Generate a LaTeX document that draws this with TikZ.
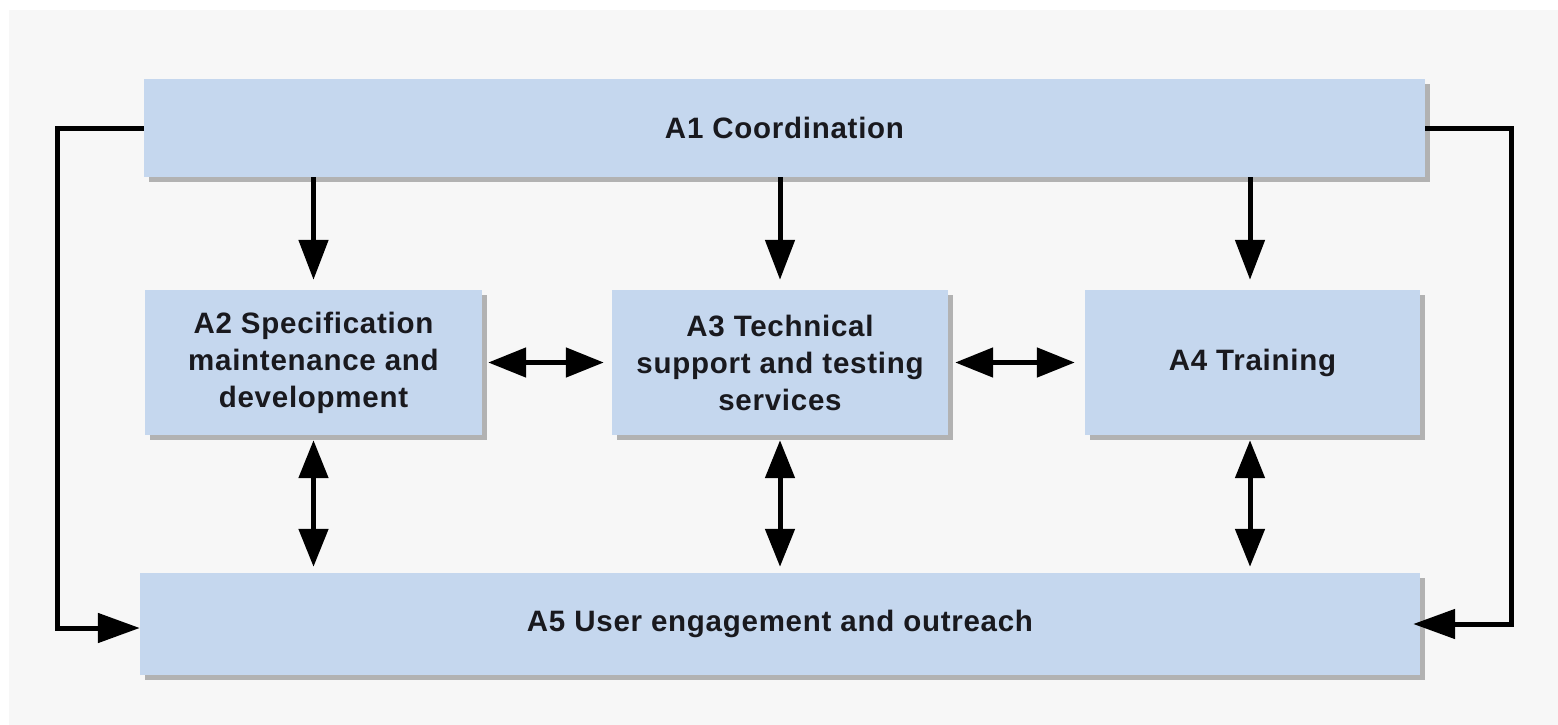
\documentclass[tikz,border=0pt]{standalone}
\usepackage{fontspec}
\setmainfont{Liberation Sans}[LetterSpace=2.5]
\usetikzlibrary{arrows.meta,shadows}
\definecolor{boxfill}{RGB}{197,215,238}
\definecolor{bgfill}{RGB}{247,247,247}
\definecolor{txt}{RGB}{25,25,30}
\begin{document}
\begin{tikzpicture}[x=1pt,y=-1pt,
  blk/.style={fill=boxfill, draw=none, inner sep=0pt, align=center, text=txt,
    font=\fontsize{29.5}{37}\selectfont\bfseries,
    drop shadow={shadow xshift=5pt, shadow yshift=-5pt, fill=black!30, opacity=1}},
  arr/.style={line width=5pt, -{Triangle[length=40pt,width=29pt]}},
  darr/.style={line width=5pt, {Triangle[length=38pt,width=29pt]}-{Triangle[length=38pt,width=29pt]}},
  loop/.style={line width=5pt, line join=miter, -{Triangle[length=42pt,width=29pt]}}]
\useasboundingbox (0,0) rectangle (1558,725);
\fill[white] (-10,-10) rectangle (1580,740);
\fill[bgfill] (9,10) rectangle (1580,740);

\node[blk, minimum width=1281pt, minimum height=98pt] (A1) at (784.5,128) {A1 Coordination};
\node[blk, minimum width=337pt, minimum height=145pt] (A2) at (313.5,362.5) {A2 Specification\\maintenance and\\development};
\node[blk, minimum width=336pt, minimum height=145pt] (A3) at (780,362.5) {A3 Technical\\support and testing\\services};
\node[blk, minimum width=335pt, minimum height=145pt] (A4) at (1252.5,362.5) {A4 Training};
\node[blk, minimum width=1280pt, minimum height=102pt] (A5) at (780,624) {A5 User engagement and outreach};

\coordinate (L) at (57,128);
\coordinate (R) at (1511,128);

\draw[arr, shorten >=10pt] (A2.north |- A1.south) -- (A2.north);
\draw[arr, shorten >=10pt] (A3.north |- A1.south) -- (A3.north);
\draw[arr, shorten >=10pt] ([xshift=-2.5pt]A4.north |- A1.south) -- ([xshift=-2.5pt]A4.north);

\draw[darr, shorten <=6pt, shorten >=8pt] (A2.east) -- (A3.west);
\draw[darr, shorten <=7pt, shorten >=10pt] (A3.east) -- (A4.west);

\draw[darr, shorten <=5pt, shorten >=6pt] (A2.south) -- (A2.south |- A5.north);
\draw[darr, shorten <=5pt, shorten >=6pt] (A3.south) -- (A3.south |- A5.north);
\draw[darr, shorten <=5pt, shorten >=6pt] ([xshift=-2.5pt]A4.south) -- ([xshift=-2.5pt]A4.south |- A5.north);

\draw[loop] (A1.west) -- (L) |- ([yshift=-4pt]A5.west);
\draw[loop, shorten >=-7pt] (A1.east) -- (R) |- (A5.east);
\end{tikzpicture}
\end{document}
